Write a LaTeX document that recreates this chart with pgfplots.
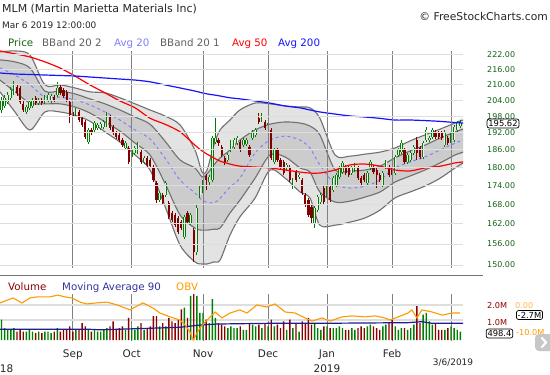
\documentclass[border=0pt]{standalone}
\usepackage{pgfplots}
\usepackage{pgfplotstable}
\usepackage{fontspec}
\setmainfont{DejaVu Sans}
\pgfplotsset{compat=1.18}

\definecolor{cgreen}{RGB}{0,125,0}
\definecolor{cred}{RGB}{128,0,0}
\definecolor{hollow}{RGB}{240,240,240}
\definecolor{labgreen}{RGB}{20,100,20}
\definecolor{bandline}{RGB}{112,112,112}
\definecolor{outerfill}{RGB}{227,227,227}
\definecolor{innerfill}{RGB}{204,204,204}
\definecolor{avgtwenty}{RGB}{128,128,255}
\definecolor{avgfifty}{RGB}{255,0,0}
\definecolor{avgtwohundred}{RGB}{20,20,255}
\definecolor{hgrid}{RGB}{222,222,222}
\definecolor{vgrid}{RGB}{128,128,128}
\definecolor{volred}{RGB}{139,0,0}
\definecolor{volgreen}{RGB}{0,128,0}
\definecolor{obvc}{RGB}{255,153,0}
\definecolor{maninety}{RGB}{30,30,140}
\definecolor{lablue}{RGB}{51,51,153}
\definecolor{legray}{RGB}{96,96,96}

% up candles: per day rows (day, low, open), (day, high, close), break
\pgfplotstableread{
d w b
0 199.2 200.3
0 205.2 204.1
0 nan nan
1 201.1 201.8
1 206.0 204.9
1 nan nan
2 202.6 203.3
2 207.2 206.0
2 nan nan
3 204.1 204.9
3 209.1 207.9
3 nan nan
4 206.0 206.8
4 211.4 209.9
4 nan nan
8 198.8 199.6
8 202.2 201.4
8 nan nan
9 200.3 201.1
9 204.1 203.3
9 nan nan
10 201.1 201.8
10 204.9 204.1
10 nan nan
12 202.2 202.9
12 204.9 204.1
12 nan nan
14 202.6 203.3
14 206.0 205.2
14 nan nan
15 203.3 204.1
15 206.8 206.0
15 nan nan
16 202.9 203.7
16 206.4 205.6
16 nan nan
18 205.2 206.0
18 211.1 208.7
18 nan nan
24 197.7 198.4
24 201.1 200.3
24 nan nan
28 188.0 188.7
28 193.7 193.0
28 nan nan
30 192.3 193.0
30 196.2 195.5
30 nan nan
31 193.0 193.7
31 195.5 194.8
31 nan nan
32 193.0 193.7
32 195.9 195.1
32 nan nan
33 193.3 194.1
33 196.6 195.9
33 nan nan
34 194.1 194.8
34 199.6 197.3
34 nan nan
40 185.9 186.6
40 189.1 188.3
40 nan nan
42 182.8 183.5
42 186.6 185.9
42 nan nan
43 184.2 184.9
43 187.3 186.6
43 nan nan
44 184.5 185.2
44 188.7 188.3
44 nan nan
46 181.1 181.8
46 183.8 183.2
46 nan nan
51 168.7 169.3
51 172.2 171.6
51 nan nan
53 170.3 170.9
53 175.5 174.8
53 nan nan
59 157.5 158.1
59 164.7 164.1
59 nan nan
61 161.6 162.2
61 165.3 164.7
61 nan nan
63 152.8 153.7
63 167.8 166.8
63 nan nan
64 170.0 170.9
64 173.8 173.2
64 nan nan
65 170.6 171.6
65 176.4 175.8
65 nan nan
67 174.2 175.1
67 177.4 176.8
67 nan nan
68 175.1 175.8
68 190.8 190.1
68 nan nan
69 188.0 188.7
69 197.3 190.1
69 nan nan
73 181.8 182.5
73 184.9 184.2
73 nan nan
74 185.2 185.9
74 189.4 188.7
74 nan nan
75 186.3 186.9
75 190.1 189.4
75 nan nan
76 187.6 188.3
76 190.8 190.1
76 nan nan
78 186.9 187.6
78 190.1 189.4
78 nan nan
79 187.3 188.0
79 190.1 189.4
79 nan nan
81 189.4 190.1
81 193.0 192.3
81 nan nan
82 190.5 191.2
82 193.7 193.0
82 nan nan
84 195.9 196.6
84 199.2 198.4
84 nan nan
86 194.1 194.8
86 196.2 195.5
86 nan nan
88 181.1 181.8
88 186.6 185.9
88 nan nan
92 179.1 179.8
92 181.5 180.8
92 nan nan
94 172.9 173.5
94 176.4 175.8
94 nan nan
96 176.1 176.8
96 178.1 177.4
96 nan nan
101 160.7 162.2
101 167.5 166.8
101 nan nan
102 165.6 166.2
102 170.9 170.3
102 nan nan
103 168.1 168.7
103 171.6 170.9
103 nan nan
105 169.7 170.3
105 174.8 174.2
105 nan nan
107 171.9 172.5
107 177.1 176.4
107 nan nan
108 173.5 174.2
108 178.1 177.4
108 nan nan
109 176.1 176.8
109 180.4 179.8
109 nan nan
110 177.8 178.4
110 182.1 181.5
110 nan nan
113 177.4 178.1
113 180.4 179.8
113 nan nan
114 178.4 179.1
114 181.5 180.8
114 nan nan
118 174.2 174.8
118 178.8 178.1
118 nan nan
119 179.1 179.8
119 182.5 181.8
119 nan nan
123 173.5 174.2
123 178.8 178.1
123 nan nan
124 179.4 180.1
124 182.5 181.8
124 nan nan
127 177.4 178.1
127 184.2 183.5
127 nan nan
128 183.5 184.2
128 186.6 185.9
128 nan nan
129 184.5 185.2
129 189.4 188.3
129 nan nan
131 181.1 181.8
131 184.9 184.2
131 nan nan
132 181.8 182.5
132 185.6 184.9
132 nan nan
133 184.2 184.9
133 187.6 186.9
133 nan nan
136 182.8 183.5
136 189.1 188.3
136 nan nan
137 188.7 189.4
137 194.1 193.0
137 nan nan
138 188.7 189.4
138 190.8 190.1
138 nan nan
139 189.8 190.5
139 193.7 193.0
139 nan nan
143 186.9 187.6
143 193.0 192.3
143 nan nan
145 187.6 188.3
145 193.0 192.3
145 nan nan
146 188.7 189.4
146 194.8 194.1
146 nan nan
147 192.3 193.0
147 196.2 195.5
147 nan nan
148 193.7 194.4
148 196.6 195.62
148 nan nan
}\upc

% down candles: per day rows (day, low, open), (day, high, close), break
\pgfplotstableread{
d w b
5 205.6 209.1
5 209.9 206.8
5 nan nan
6 202.6 208.7
6 209.5 203.3
6 nan nan
7 199.6 202.6
7 203.7 200.3
7 nan nan
11 202.2 204.9
11 205.6 202.9
11 nan nan
13 202.2 204.1
13 204.9 202.9
13 nan nan
17 203.3 205.2
17 206.0 204.1
17 nan nan
19 206.0 209.1
19 209.9 206.8
19 nan nan
20 204.9 207.9
20 208.7 205.6
20 nan nan
21 203.3 207.2
21 207.9 204.1
21 nan nan
22 195.5 203.3
22 204.1 198.4
22 nan nan
23 197.0 199.6
23 200.7 197.7
23 nan nan
25 195.9 199.6
25 200.3 196.6
25 nan nan
26 194.1 197.3
26 198.1 194.8
26 nan nan
27 189.8 195.9
27 196.6 190.5
27 nan nan
29 191.2 193.0
29 193.7 191.9
29 nan nan
35 193.0 197.7
35 198.4 193.7
35 nan nan
36 191.2 194.1
36 194.8 191.9
36 nan nan
37 189.8 191.9
37 192.6 190.5
37 nan nan
38 188.7 191.2
38 191.9 189.4
38 nan nan
39 186.9 189.4
39 190.1 187.6
39 nan nan
41 181.1 186.6
41 187.3 181.8
41 nan nan
45 181.1 185.2
45 185.9 181.8
45 nan nan
47 180.1 183.2
47 183.8 180.8
47 nan nan
48 179.8 182.5
48 183.2 180.4
48 nan nan
49 175.1 180.1
49 180.8 175.8
49 nan nan
50 168.4 174.8
50 175.5 169.3
50 nan nan
52 167.8 170.9
52 171.6 168.4
52 nan nan
54 163.5 168.4
54 169.0 164.1
54 nan nan
55 162.5 165.3
55 165.9 163.1
55 nan nan
56 161.0 164.7
56 165.3 161.6
56 nan nan
57 158.9 163.8
57 164.4 159.5
57 nan nan
58 160.1 162.5
58 163.1 160.7
58 nan nan
60 161.9 165.3
60 165.9 162.5
60 nan nan
62 150.9 160.1
62 160.7 153.7
62 nan nan
66 172.5 177.1
66 177.8 175.8
66 nan nan
70 187.3 189.4
70 190.1 188.3
70 nan nan
71 183.5 186.9
71 187.6 184.2
71 nan nan
72 180.8 183.2
72 183.8 181.5
72 nan nan
77 185.2 188.7
77 189.4 185.9
77 nan nan
80 183.5 186.9
80 187.6 184.2
80 nan nan
83 195.1 197.3
83 199.2 195.9
83 nan nan
85 193.0 195.9
85 196.6 193.7
85 nan nan
87 182.5 193.0
87 193.7 183.2
87 nan nan
89 181.8 185.9
89 186.6 182.5
89 nan nan
90 179.4 182.5
90 183.2 180.1
90 nan nan
91 177.4 181.8
91 182.5 178.1
91 nan nan
93 175.1 180.1
93 180.8 175.8
93 nan nan
95 175.1 178.4
95 179.1 175.8
95 nan nan
97 170.9 175.8
97 176.4 171.6
97 nan nan
98 167.2 170.9
98 171.6 167.8
98 nan nan
99 164.1 169.3
99 170.0 164.7
99 nan nan
100 162.2 167.2
100 167.8 163.8
100 nan nan
104 168.1 173.2
104 173.8 168.7
104 nan nan
106 168.7 173.5
106 174.2 169.3
106 nan nan
111 177.4 180.1
111 180.8 178.1
111 nan nan
112 176.8 179.8
112 180.4 177.4
112 nan nan
115 175.8 179.8
115 180.4 176.4
115 nan nan
116 174.2 176.4
116 177.1 174.8
116 nan nan
117 175.1 177.4
117 178.1 175.8
117 nan nan
120 177.8 180.1
120 180.8 178.4
120 nan nan
121 173.2 179.1
121 179.8 177.4
121 nan nan
122 175.1 177.4
122 178.1 175.8
122 nan nan
125 176.8 180.1
125 180.8 177.4
125 nan nan
126 175.8 179.8
126 180.4 177.4
126 nan nan
130 181.1 185.9
130 186.6 181.8
130 nan nan
134 182.5 189.4
134 190.5 184.9
134 nan nan
135 182.8 186.6
135 187.3 183.5
135 nan nan
140 189.8 192.3
140 193.0 190.5
140 nan nan
141 189.8 191.9
141 192.6 190.5
141 nan nan
142 189.4 191.9
142 192.6 190.1
142 nan nan
144 187.6 190.1
144 190.8 188.3
144 nan nan
}\dnc

% volume (millions) on up days
\pgfplotstableread{
i v
0 1.2
1 0.7
2 0.6
3 0.6
4 0.7
8 0.5
9 0.6
10 0.5
12 0.5
14 0.5
15 0.5
16 0.4
18 0.7
24 0.6
28 0.6
30 0.6
31 0.5
32 0.5
33 0.6
34 0.7
40 0.6
42 0.7
43 0.6
44 0.8
46 0.6
51 0.8
53 0.8
59 1.9
61 2.6
63 2.6
64 1.6
65 1.6
67 1.0
68 2.4
69 1.3
73 0.7
74 0.8
75 0.7
76 0.7
78 0.6
79 0.6
81 0.9
82 0.8
84 0.7
86 0.8
88 0.8
92 0.6
94 0.7
96 0.5
101 1.0
102 0.7
103 0.6
105 0.8
107 0.7
108 0.7
109 0.8
110 0.7
113 0.7
114 0.6
118 0.8
119 0.9
123 0.8
124 0.9
127 0.8
128 0.6
129 0.7
131 0.6
132 0.7
133 0.9
136 1.5
137 1.6
138 1.1
139 0.9
143 0.6
145 0.8
146 0.7
147 0.6
148 0.498
}\upv

% volume (millions) on down days
\pgfplotstableread{
i v
5 0.5
6 0.6
7 0.5
11 0.4
13 0.4
17 0.5
19 0.5
20 0.6
21 0.6
22 0.8
23 0.5
25 0.6
26 1.0
27 0.8
29 0.5
35 0.8
36 1.1
37 0.6
38 0.7
39 0.8
41 1.3
45 1.0
47 0.7
48 0.8
49 1.4
50 1.4
52 1.0
54 1.3
55 1.1
56 1.0
57 1.2
58 1.8
60 1.3
62 2.7
66 1.2
70 1.0
71 0.9
72 0.8
77 0.8
80 1.0
83 0.9
85 1.0
87 1.2
89 0.9
90 0.7
91 1.1
93 1.2
95 1.0
97 1.1
98 1.0
99 1.3
100 0.9
104 0.8
106 0.7
111 0.6
112 0.6
115 0.7
116 0.8
117 0.7
120 0.8
121 0.7
122 0.6
125 1.0
126 1.2
130 0.7
134 2.0
135 1.0
140 1.0
141 0.6
142 0.6
144 0.7
}\dnv

\pgfplotstableread{
x u2 u1 m l1 l2 a50 a200
-0.5 223.2 219.9 216.6 211.8 207.2 223.6 214.6
4.35 223.6 219.1 213.8 207.2 199.6 222.4 214.2
9.2 221.9 216.6 209.9 202.9 193.0 221.1 214.0
14.0 209.9 207.5 205.2 202.6 199.6 219.1 213.8
18.9 209.9 207.5 205.2 202.6 199.6 216.6 213.6
23.7 208.7 206.4 204.1 201.4 198.4 213.4 213.4
28.5 207.2 204.5 202.2 199.2 196.2 209.9 213.0
33.4 206.8 202.6 199.6 195.9 192.3 206.8 212.6
38.2 204.9 200.3 196.6 192.6 188.7 203.7 212.2
43.1 202.6 197.7 193.0 188.3 184.2 201.1 211.8
47.9 200.3 195.1 189.8 184.2 179.1 197.3 211.1
52.7 198.1 189.1 183.2 174.8 167.5 195.1 209.9
57.6 194.8 182.5 175.8 164.7 155.7 192.3 208.7
62.4 185.9 179.8 171.6 160.7 150.9 187.6 207.5
64.7 178.4 176.8 169.3 160.1 150.3 185.6 206.8
66.3 179.1 177.8 168.7 160.1 150.3 184.5 206.4
68.5 187.6 180.8 168.4 160.4 150.9 183.2 206.0
70.5 193.0 183.2 169.9 160.7 151.4 182.1 205.6
73.7 196.6 185.9 173.5 165.3 158.6 181.1 204.9
76.9 200.3 189.4 176.4 169.3 164.1 180.4 204.5
81.8 202.9 193.0 184.9 176.4 170.0 180.1 203.7
86.6 202.6 195.1 189.4 184.2 179.1 179.8 202.9
91.5 201.8 195.9 190.8 183.5 176.4 179.1 201.8
96.3 201.4 195.5 189.4 179.8 171.9 178.4 201.1
99.5 201.1 194.4 186.6 178.4 170.0 178.1 200.3
102.7 197.3 191.2 180.8 171.9 161.6 178.1 199.6
107.6 184.2 179.1 174.5 168.7 161.6 179.1 198.8
112.4 183.8 178.8 173.2 169.0 162.5 180.8 198.1
117.3 184.5 179.1 173.8 170.3 163.8 181.1 197.7
122.1 185.2 180.4 175.8 171.9 166.2 180.4 197.2
126.9 186.6 183.2 179.8 175.1 170.0 179.1 196.6
131.8 189.1 185.6 181.8 177.1 171.9 178.8 196.6
136.6 191.2 187.6 183.5 179.1 173.8 179.8 196.4
141.5 193.3 190.1 185.9 181.5 176.4 180.4 196.1
146.3 195.5 192.3 188.3 184.2 179.8 181.5 195.7
148.9 196.6 193.3 189.4 185.2 181.5 181.8 195.5
}\bands

% outer band outline: upper band forward, lower band back
\pgfplotstableread{
x y
-0.5 223.2
4.35 223.6
9.2 221.9
14.0 209.9
18.9 209.9
23.7 208.7
28.5 207.2
33.4 206.8
38.2 204.9
43.1 202.6
47.9 200.3
52.7 198.1
57.6 194.8
62.4 185.9
64.7 178.4
66.3 179.1
68.5 187.6
70.5 193.0
73.7 196.6
76.9 200.3
81.8 202.9
86.6 202.6
91.5 201.8
96.3 201.4
99.5 201.1
102.7 197.3
107.6 184.2
112.4 183.8
117.3 184.5
122.1 185.2
126.9 186.6
131.8 189.1
136.6 191.2
141.5 193.3
146.3 195.5
148.9 196.6
148.9 181.5
146.3 179.8
141.5 176.4
136.6 173.8
131.8 171.9
126.9 170.0
122.1 166.2
117.3 163.8
112.4 162.5
107.6 161.6
102.7 161.6
99.5 170.0
96.3 171.9
91.5 176.4
86.6 179.1
81.8 170.0
76.9 164.1
73.7 158.6
70.5 151.4
68.5 150.9
66.3 150.3
64.7 150.3
62.4 150.9
57.6 155.7
52.7 167.5
47.9 179.1
43.1 184.2
38.2 188.7
33.4 192.3
28.5 196.2
23.7 198.4
18.9 199.6
14.0 199.6
9.2 193.0
4.35 199.6
-0.5 207.2
}\outerpoly

% inner band outline
\pgfplotstableread{
x y
-0.5 219.9
4.35 219.1
9.2 216.6
14.0 207.5
18.9 207.5
23.7 206.4
28.5 204.5
33.4 202.6
38.2 200.3
43.1 197.7
47.9 195.1
52.7 189.1
57.6 182.5
62.4 179.8
64.7 176.8
66.3 177.8
68.5 180.8
70.5 183.2
73.7 185.9
76.9 189.4
81.8 193.0
86.6 195.1
91.5 195.9
96.3 195.5
99.5 194.4
102.7 191.2
107.6 179.1
112.4 178.8
117.3 179.1
122.1 180.4
126.9 183.2
131.8 185.6
136.6 187.6
141.5 190.1
146.3 192.3
148.9 193.3
148.9 185.2
146.3 184.2
141.5 181.5
136.6 179.1
131.8 177.1
126.9 175.1
122.1 171.9
117.3 170.3
112.4 169.0
107.6 168.7
102.7 171.9
99.5 178.4
96.3 179.8
91.5 183.5
86.6 184.2
81.8 176.4
76.9 169.3
73.7 165.3
70.5 160.7
68.5 160.4
66.3 160.1
64.7 160.1
62.4 160.7
57.6 164.7
52.7 174.8
47.9 184.2
43.1 188.3
38.2 192.6
33.4 195.9
28.5 199.2
23.7 201.4
18.9 202.6
14.0 202.6
9.2 202.9
4.35 207.2
-0.5 211.8
}\innerpoly

\pgfplotstableread{
x obv
-0.5 1.15
3.7 3.1
6.6 1.15
9.2 3.1
11.5 3.5
15.6 3.5
18.2 4.2
20.5 3.5
22.7 3.1
25.3 1.5
27.6 0.8
30.8 1.2
34.0 1.5
37.3 0.4
41.5 -1.5
45.6 1.2
48.9 -0.8
51.1 -2.7
54.4 -4.2
57.6 -5.4
59.2 -7.3
60.8 -10.0
61.8 -13.1
64.0 -8.5
66.3 -5.4
68.9 -2.3
71.1 -4.6
73.7 -2.7
76.9 -1.5
79.2 -2.7
82.4 0.4
85.6 -0.4
88.2 0.8
91.5 -2.3
94.7 -2.7
97.9 -4.6
100.2 -5.8
103.4 -4.6
106.0 -5.8
109.8 -4.2
113.1 -3.8
117.3 -4.2
120.5 -3.8
123.7 -4.6
125.3 -5.4
127.9 -4.2
131.1 -2.7
132.4 -1.5
134.0 -4.6
135.6 -1.5
138.9 -2.3
142.1 -3.5
145.3 -2.7
147.9 -2.7
}\obvdata

\pgfplotstableread{
x ma
-0.5 0.63
28.5 0.63
31.8 0.60
47.9 0.69
57.6 0.75
64.0 0.88
69.5 0.94
85.6 0.98
101.1 0.98
131.1 1.02
135.6 1.08
138.9 0.98
148.9 0.98
}\madata

\begin{document}
\begin{tikzpicture}
\useasboundingbox (0bp,0bp) rectangle (550bp,-375bp);
\fill[white] (0bp,0bp) rectangle (550bp,-375bp);

% titles
\node[anchor=base west, inner sep=0, font=\fontsize{11}{13}\selectfont, text=black!85] at (2bp,-12.5bp) {MLM (Martin Marietta Materials Inc)};
\node[anchor=base west, inner sep=0, font=\fontsize{9}{11}\selectfont, text=black!85] at (2bp,-28.3bp) {Mar 6 2019 12:00:00};
\node[anchor=base east, inner sep=0, font=\fontsize{10.8}{12}\selectfont, text=black!85] at (548bp,-20.5bp) {© FreeStockCharts.com};

% legend row
\begin{scope}[every node/.style={anchor=base west, inner sep=0, font=\fontsize{10.3}{12}\selectfont}]
\node[text=labgreen] at (8bp,-46.5bp) {Price};
\node[text=legray] at (42bp,-46.5bp) {BBand 20 2};
\node[text=avgtwenty] at (114bp,-46.5bp) {Avg 20};
\node[text=legray] at (160bp,-46.5bp) {BBand 20 1};
\node[text=avgfifty] at (232bp,-46.5bp) {Avg 50};
\node[text=avgtwohundred] at (278bp,-46.5bp) {Avg 200};
\end{scope}

% main price axis
\begin{axis}[
  at={(0bp,-268bp)}, anchor=south west,
  width=463bp, height=217bp, scale only axis,
  xmin=-0.484, xmax=148.87,
  ymode=log, ymin=149.2, ymax=223.6,
  axis on top,
  axis line style={draw=none}, major tick length=0pt,
  xtick={23,42,65,86,105,126,145}, xticklabels={},
  xmajorgrids, x grid style={vgrid, line width=1bp},
  ytick={150,156,162,168,174,180,186,192,198,204,210,216,222},
  yticklabels={150.00,156.00,162.00,168.00,174.00,180.00,186.00,192.00,198.00,204.00,210.00,216.00,222.00},
  ymajorgrids, y grid style={hgrid, line width=1bp},
  yticklabel pos=right,
  yticklabel style={anchor=west, inner sep=0pt, xshift=24bp, font=\fontsize{8}{9}\selectfont, text=labgreen},
  unbounded coords=jump,
]
\addplot[fill=outerfill, draw=none, smooth, tension=0.5] table[x=x,y=y]{\outerpoly};
\addplot[fill=innerfill, draw=none, smooth, tension=0.5] table[x=x,y=y]{\innerpoly};
\addplot[bandline, line width=1.1bp, smooth, tension=0.5] table[x=x,y=u2]{\bands};
\addplot[bandline, line width=1.1bp, smooth, tension=0.5] table[x=x,y=l2]{\bands};
\addplot[bandline, line width=1.1bp, smooth, tension=0.5] table[x=x,y=u1]{\bands};
\addplot[bandline, line width=1.1bp, smooth, tension=0.5] table[x=x,y=l1]{\bands};
\addplot[avgtwenty, line width=1bp, dash pattern=on 3bp off 3bp, smooth, tension=0.5] table[x=x,y=m]{\bands};
% wicks
\addplot[cgreen, line width=0.9bp, mark=none] table[x=d, y=w]{\upc};
\addplot[cred, line width=0.9bp, mark=none] table[x=d, y=w]{\dnc};
% bodies (up candles hollow)
\addplot[cgreen, line width=2.4bp, mark=none] table[x=d, y=b]{\upc};
\addplot[hollow, line width=0.8bp, mark=none] table[x=d, y=b]{\upc};
\addplot[cred, line width=2.2bp, mark=none] table[x=d, y=b]{\dnc};
% averages
\addplot[avgfifty, line width=1.2bp, smooth, tension=0.5] table[x=x,y=a50]{\bands};
\addplot[avgtwohundred, line width=1.2bp, smooth, tension=0.5] table[x=x,y=a200]{\bands};
\end{axis}

% price box
\node[draw=black, fill=white, rounded corners=2bp, inner sep=1.3bp, line width=0.7bp, font=\fontsize{8.4}{9}\selectfont] at (503bp,-123.5bp) {195.62};

% separator
\draw[black!55, line width=1bp] (0bp,-275bp) -- (483bp,-275bp);

% lower legend
\begin{scope}[every node/.style={anchor=base west, inner sep=0, font=\fontsize{10.3}{12}\selectfont}]
\node[text=volred] at (8bp,-290.5bp) {Volume};
\node[text=lablue] at (62bp,-290.5bp) {Moving Average 90};
\node[text=obvc] at (176bp,-290.5bp) {OBV};
\end{scope}

% volume axis
\begin{axis}[
  at={(0bp,-341bp)}, anchor=south west,
  width=463bp, height=47bp, scale only axis,
  xmin=-0.484, xmax=148.87, ymin=-0.0588, ymax=2.706,
  axis line style={draw=none}, major tick length=0pt,
  xtick={23,42,65,86,105,126,145}, xticklabels={},
  xmajorgrids, x grid style={vgrid, line width=1bp},
  ytick={1.18,2.06}, yticklabels={},
  ymajorgrids, y grid style={hgrid, line width=1.2bp},
]
\addplot[ybar, bar width=1.4bp, bar shift=0bp, draw=none, fill=volgreen] table[x=i, y=v]{\upv};
\addplot[ybar, bar width=1.4bp, bar shift=0bp, draw=none, fill=volred] table[x=i, y=v]{\dnv};
\addplot[maninety, line width=1.2bp] table[x=x, y=ma]{\madata};
\end{axis}

% OBV axis
\begin{axis}[
  at={(0bp,-341bp)}, anchor=south west,
  width=463bp, height=47bp, scale only axis,
  xmin=-0.484, xmax=148.87, ymin=-13.46, ymax=4.615,
  hide axis,
]
\addplot[obvc, line width=1.1bp] table[x=x, y=obv]{\obvdata};
\end{axis}

% lower right labels
\begin{scope}[every node/.style={anchor=west, inner sep=0, font=\fontsize{8.2}{9}\selectfont}]
\node[text=volred] at (487bp,-306bp) {2.0M};
\node[text=volred] at (487bp,-323bp) {1.0M};
\node[text=obvc!70] at (515bp,-306bp) {0.00};
\node[text=obvc] at (516bp,-332.5bp) {-10.0M};
\end{scope}
\node[draw=black, fill=white, rounded corners=2bp, inner sep=1.3bp, line width=0.7bp, font=\fontsize{8.4}{9}\selectfont] at (529.5bp,-315bp) {-2.7M};
\node[draw=black, fill=white, rounded corners=2bp, inner sep=1.3bp, line width=0.7bp, font=\fontsize{8.4}{9}\selectfont] at (499.5bp,-333.5bp) {498.4};

% scroll button
\fill[black!22, rounded corners=4bp] (535bp,-334bp) rectangle (558bp,-351bp);
\draw[white, line width=2.2bp] (541.5bp,-337.5bp) -- (546bp,-342.5bp) -- (541.5bp,-347.5bp);

% date labels
\begin{scope}[every node/.style={anchor=base, inner sep=0, font=\fontsize{10.5}{12}\selectfont, text=black!85}]
\node at (72.8bp,-357.5bp) {Sep};
\node at (131.7bp,-357.5bp) {Oct};
\node at (203bp,-357.5bp) {Nov};
\node at (268.1bp,-357.5bp) {Dec};
\node at (327bp,-357.5bp) {Jan};
\node at (392.1bp,-357.5bp) {Feb};
\node at (0bp,-372.5bp) {2018};
\node at (327bp,-372.5bp) {2019};
\end{scope}
\node[anchor=base, inner sep=0, font=\fontsize{9}{10}\selectfont, text=black!85] at (453bp,-365bp) {3/6/2019};
\end{tikzpicture}
\end{document}
